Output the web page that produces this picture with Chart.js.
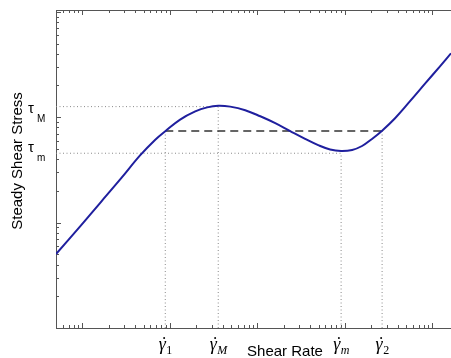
<!DOCTYPE html>
<html>
<head>
<meta charset="utf-8">
<script src="https://cdn.jsdelivr.net/npm/chart.js@4"></script>
<style>
  html, body { margin: 0; padding: 0; background: #fff; }
  #wrap { width: 451px; height: 358px; }
</style>
</head>
<body>
<div id="wrap"><canvas id="flowCurve"></canvas></div>
<script>
// flow curve (log-log)
const shearRate = [0.5, 0.949, 1.61, 2.72, 4.59, 6.81, 8.86, 13.1, 19.5, 26.7, 35.7, 48.9, 72.6, 108, 160, 237, 351, 495, 678, 905, 1210, 1570, 2040, 2660, 3740, 5550, 8230, 12200, 16300];
const shearStress = [5.03, 9.26, 15.5, 25.8, 43.6, 61.2, 73.7, 95.0, 113.5, 124, 128.5, 126, 116.5, 102, 87.7, 73.7, 62.2, 54.3, 49.4, 47.8, 48.9, 53.3, 62.2, 74.5, 97.8, 142, 208, 304, 404];

// marked shear rates on the x axis
const rateMarks = [8.86, 35.7, 905, 2660];
const rateSubs = ['1', 'M', 'm', '2'];
const rateSubItalic = [false, true, true, false];
// where each vertical guide stops
const rateMarkTop = [74, 126, 45.5, 74];

// marked stresses on the y axis
const stressMarks = [126, 45.5];
const stressMarkEnd = [35.7, 905];
const stressLabelAt = [107, 45.5];
const stressSubs = ['M', 'm'];

const plateauStress = 74;
const xRange = [0.5, 16300];
const yRange = [1, 1040];

const pts = (xs, ys) => xs.map((v, i) => ({ x: v, y: ys[i] }));

const guide = (data) => ({
    data,
    borderColor: '#8a8a8a',
    borderWidth: 1,
    borderDash: [1, 2.5],
    pointRadius: 0,
    showLine: true,
});

const datasets = [
    {
        data: pts(shearRate, shearStress),
        borderColor: '#1f1f9e',
        borderWidth: 2,
        pointRadius: 0,
        showLine: true,
        tension: 0.4,
    },
    {
        data: [{ x: rateMarks[0], y: plateauStress }, { x: rateMarks[3], y: plateauStress }],
        borderColor: '#333',
        borderWidth: 1.4,
        borderDash: [8, 5],
        pointRadius: 0,
        showLine: true,
    },
];
stressMarks.forEach((s, i) => datasets.push(guide([{ x: xRange[0], y: s }, { x: stressMarkEnd[i], y: s }])));
rateMarks.forEach((r, i) => datasets.push(guide([{ x: r, y: yRange[0] }, { x: r, y: rateMarkTop[i] }])));

function logTicks(scale) {
    const out = [];
    const lo = Math.floor(Math.log10(scale.min)), hi = Math.ceil(Math.log10(scale.max));
    for (let d = lo; d <= hi; d++) {
        for (let k = 1; k <= 9; k++) {
            const v = k * Math.pow(10, d);
            if (v >= scale.min && v <= scale.max) out.push({ v, major: k === 1 });
        }
    }
    return out;
}

const axisDecor = {
    id: 'axisDecor',
    beforeDatasetsDraw(chart) {
        const { ctx, chartArea: a, scales: { x, y } } = chart;
        ctx.save();
        ctx.strokeStyle = '#555';
        ctx.lineWidth = 1;
        ctx.beginPath();
        ctx.moveTo(a.left + 0.5, a.top); ctx.lineTo(a.left + 0.5, a.bottom + 1);
        ctx.moveTo(a.left, a.bottom + 0.5); ctx.lineTo(a.right, a.bottom + 0.5);
        ctx.moveTo(a.left, a.top + 0.5); ctx.lineTo(a.right, a.top + 0.5);
        for (const t of logTicks(x)) {
            const px = Math.round(x.getPixelForValue(t.v)) + 0.5;
            const len = t.major ? 5 : 3;
            ctx.moveTo(px, a.bottom); ctx.lineTo(px, a.bottom - len);
            ctx.moveTo(px, a.top); ctx.lineTo(px, a.top + len);
        }
        for (const t of logTicks(y)) {
            const py = Math.round(y.getPixelForValue(t.v)) + 0.5;
            ctx.moveTo(a.left, py); ctx.lineTo(a.left + (t.major ? 5 : 3), py);
        }
        ctx.stroke();
        ctx.restore();
    },
    afterDraw(chart) {
        const { ctx, scales: { x, y } } = chart;
        ctx.save();
        ctx.fillStyle = '#000';
        ctx.textBaseline = 'alphabetic';

        // gamma-dot labels under the axis
        rateMarks.forEach((v, i) => {
            const px = x.getPixelForValue(v);
            ctx.font = 'italic 18px "Liberation Serif"';
            const gw = ctx.measureText('γ').width;
            const subFont = (rateSubItalic[i] ? 'italic ' : '') + '12px "Liberation Serif"';
            ctx.font = subFont;
            const sw = ctx.measureText(rateSubs[i]).width;
            const left = px - (gw + sw) / 2;
            ctx.font = 'italic 18px "Liberation Serif"';
            ctx.textAlign = 'left';
            ctx.fillText('γ', left, 350);
            ctx.textAlign = 'center';
            ctx.fillText('˙', left + gw * 0.62, 350);
            ctx.textAlign = 'left';
            ctx.font = subFont;
            ctx.fillText(rateSubs[i], left + gw + 0.5, 354);
        });

        // tau labels left of the axis
        ctx.textAlign = 'left';
        stressLabelAt.forEach((v, i) => {
            const py = y.getPixelForValue(v);
            ctx.font = '15px "Liberation Sans"';
            ctx.fillText('τ', 28, py - 1);
            ctx.font = '10px "Liberation Sans"';
            ctx.fillText(stressSubs[i], 37, py + 8);
        });

        // axis titles
        ctx.font = '15px "Liberation Sans"';
        ctx.textAlign = 'center';
        ctx.fillText('Shear Rate', 285, 356);
        ctx.translate(18, 161);
        ctx.rotate(-Math.PI / 2);
        ctx.textBaseline = 'middle';
        ctx.fillText('Steady Shear Stress', 0, 0);
        ctx.restore();
    },
};

new Chart(document.getElementById('flowCurve'), {
    type: 'scatter',
    data: { datasets },
    options: {
        responsive: true,
        maintainAspectRatio: false,
        animation: false,
        layout: { padding: { left: 56, top: 10, right: 0, bottom: 30 } },
        plugins: { legend: { display: false }, tooltip: { enabled: false } },
        scales: {
            x: { type: 'logarithmic', min: xRange[0], max: xRange[1], display: false },
            y: { type: 'logarithmic', min: yRange[0], max: yRange[1], display: false },
        },
    },
    plugins: [axisDecor],
});
</script>
</body>
</html>
